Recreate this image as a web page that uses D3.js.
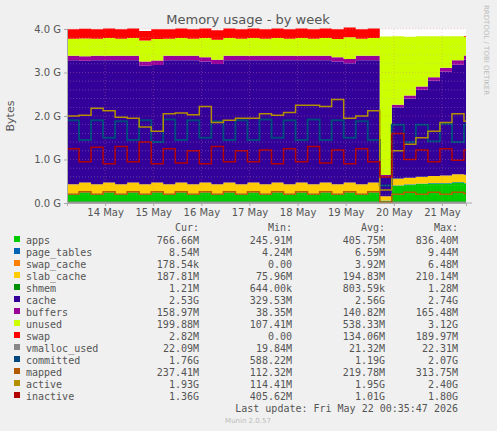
<!DOCTYPE html>
<html>
<head>
<meta charset="UTF-8">
<script src="https://d3js.org/d3.v7.min.js"></script>
<style>
body { margin:0; background:#f0f0f0; }
text { font-family: "DejaVu Sans", sans-serif; fill:#555; }
.mono { font-family: "DejaVu Sans Mono", monospace; font-size:10px; fill:#555; }
</style>
</head>
<body>
<svg id="chart" width="497" height="431"></svg>
<script>
// values in GB, one point every 6 hours from 13 May 05:00
const apps       = [0.20,0.24,0.20,0.24,0.20,0.24,0.20,0.24,0.20,0.24,0.20,0.24,0.20,0.24,0.20,0.24,0.20,0.24,0.20,0.24,0.20,0.24,0.20,0.24,0.20,0.24,0.05,0.40,0.42,0.44,0.45,0.45,0.47,0.45];
const page_tables= [0.01,0.01,0.01,0.01,0.01,0.01,0.01,0.01,0.01,0.01,0.01,0.01,0.01,0.01,0.01,0.01,0.01,0.01,0.01,0.01,0.01,0.01,0.01,0.01,0.01,0.01,0.005,0.01,0.01,0.01,0.01,0.01,0.01,0.01];
const swap_cache = [0.002,0.002,0.002,0.002,0.002,0.002,0.002,0.002,0.002,0.002,0.002,0.002,0.002,0.002,0.002,0.002,0.002,0.002,0.002,0.002,0.002,0.002,0.002,0.002,0.002,0.002,0,0,0,0,0,0,0,0];
const slab_cache = [0.22,0.22,0.22,0.22,0.22,0.22,0.22,0.22,0.22,0.22,0.22,0.22,0.22,0.22,0.22,0.22,0.22,0.22,0.22,0.22,0.22,0.22,0.22,0.22,0.22,0.22,0.10,0.15,0.15,0.15,0.16,0.17,0.18,0.19];
const shmem      = [0.001,0.001,0.001,0.001,0.001,0.001,0.001,0.001,0.001,0.001,0.001,0.001,0.001,0.001,0.001,0.001,0.001,0.001,0.001,0.001,0.001,0.001,0.001,0.001,0.001,0.001,0.001,0.001,0.001,0.001,0.001,0.001,0.001,0.001];
const cache      = [2.85,2.80,2.85,2.81,2.85,2.81,2.72,2.70,2.85,2.81,2.85,2.78,2.76,2.81,2.85,2.81,2.85,2.81,2.85,2.81,2.85,2.81,2.82,2.74,2.85,2.81,0.44,1.64,1.82,2.00,2.19,2.39,2.52,2.64];
const buffers    = [0.10,0.10,0.10,0.10,0.10,0.10,0.10,0.10,0.10,0.10,0.10,0.10,0.10,0.10,0.10,0.10,0.10,0.10,0.10,0.10,0.10,0.10,0.10,0.10,0.10,0.10,0.05,0.06,0.07,0.08,0.08,0.09,0.10,0.10];
const unused     = [0.39,0.41,0.39,0.41,0.39,0.41,0.48,0.50,0.39,0.41,0.39,0.44,0.46,0.41,0.39,0.41,0.39,0.41,0.39,0.41,0.39,0.41,0.42,0.50,0.39,0.41,3.18,1.57,1.35,1.15,0.94,0.72,0.55,0.43];
const swap       = [0.22,0.22,0.22,0.22,0.22,0.22,0.22,0.22,0.22,0.22,0.22,0.22,0.22,0.22,0.22,0.22,0.22,0.22,0.22,0.22,0.22,0.22,0.22,0.22,0.22,0.22,0,0,0,0,0,0,0,0.02];
const vmalloc_used=[0.02,0.02,0.02,0.02,0.02,0.02,0.02,0.02,0.02,0.02,0.02,0.02,0.02,0.02,0.02,0.02,0.02,0.02,0.02,0.02,0.02,0.02,0.02,0.02,0.02,0.02,0.02,0.02,0.02,0.02,0.02,0.02,0.02,0.02];
const committed  = [1.90,1.45,1.90,1.50,1.88,1.45,1.90,1.40,1.92,1.45,1.90,1.50,1.88,1.45,1.90,1.45,1.92,1.50,1.90,1.45,1.92,1.45,1.90,1.50,1.88,1.45,0.40,1.80,1.40,1.80,1.42,1.82,1.40,1.80];
const mapped     = [0.20,0.26,0.20,0.26,0.20,0.26,0.20,0.26,0.20,0.26,0.20,0.26,0.20,0.26,0.20,0.26,0.20,0.26,0.20,0.26,0.20,0.26,0.20,0.26,0.20,0.26,0.02,0.20,0.25,0.20,0.25,0.20,0.25,0.22];
const active     = [2.00,2.02,2.18,2.12,1.97,1.95,1.75,1.65,2.05,2.07,2.03,2.22,1.85,1.90,1.95,1.95,2.05,2.02,2.08,2.25,2.25,2.22,2.38,1.95,2.00,2.12,0.30,1.20,1.35,1.50,1.65,1.85,2.05,1.88];
const inactive   = [1.25,0.95,1.28,0.90,1.30,0.95,1.40,0.90,1.25,0.92,1.20,0.90,1.30,0.95,1.20,0.95,1.22,0.90,1.25,0.95,1.30,0.92,1.22,0.90,1.25,0.95,0.60,1.60,1.00,1.22,0.95,1.25,0.98,1.22];

const names = ["apps","page_tables","swap_cache","slab_cache","shmem","cache","buffers","unused","swap","vmalloc_used","committed","mapped","active","inactive"];
const colors = ["#00cc00","#0066b3","#ff8000","#ffcc00","#008f00","#330099","#990099","#ccff00","#ff0000","#888888","#00487d","#b35a00","#b38f00","#b30000"];
const curVals = ["766.66M","8.54M","178.54k","187.81M","1.21M","2.53G","158.97M","199.88M","2.82M","22.09M","1.76G","237.41M","1.93G","1.36G"];
const minVals = ["245.91M","4.24M","0.00","75.96M","644.00k","329.53M","38.35M","107.41M","0.00","19.84M","588.22M","112.32M","114.41M","405.62M"];
const avgVals = ["405.75M","6.59M","3.92M","194.83M","803.59k","2.56G","140.82M","538.33M","134.06M","21.32M","1.19G","219.78M","1.95G","1.01G"];
const maxVals = ["836.40M","9.44M","6.48M","210.14M","1.28M","2.74G","165.48M","3.12G","189.97M","22.31M","2.07G","313.75M","2.40G","1.80G"];
const yTicks = [0,1,2,3,4];
const dayTicks = [14,15,16,17,18,19,20,21];

const stackSeries = [apps,page_tables,swap_cache,slab_cache,shmem,cache,buffers,unused,swap];
const lineSeries = [vmalloc_used,committed,mapped,active,inactive];

const svg = d3.select("#chart");
const pL = 67, pR = 466, pT = 29, pB = 203;
const t0 = new Date(2026,4,13,5);
const tEnd = new Date(2026,4,21,12);
const n = apps.length;
// sample times plus one closing time so the last step reaches the edge
const tx = d3.range(n + 1).map(i => i < n ? new Date(t0.getTime() + i*6*3600e3) : tEnd);
const x = d3.scaleTime().domain([t0, tEnd]).range([pL, pR]);
const y = d3.scaleLinear().domain([0,4]).range([pB, pT]);

const rows = tx.map((t,i) => {
  const r = {i};
  names.slice(0,9).forEach((nm,k) => r[nm] = stackSeries[k][Math.min(i, n-1)]);
  return r;
});
const stack = d3.stack().keys(names.slice(0,9))(rows);
const area = d3.area().curve(d3.curveStepAfter)
  .x(d => x(tx[d.data.i])).y0(d => y(d[0])).y1(d => y(d[1]));

svg.append("rect").attr("x",pL).attr("y",pT).attr("width",pR-pL).attr("height",pB-pT).attr("fill","#fff");
const plot = svg.append("g");
stack.forEach((s,k) => plot.append("path").datum(s).attr("fill", colors[k]).attr("d", area));

// grid
const days = dayTicks.map(d => new Date(2026,4,d));
svg.append("g").selectAll("line").data(d3.range(0,4.01,0.2)).join("line")
  .attr("x1",pL).attr("x2",pR).attr("y1",d=>y(d)).attr("y2",d=>y(d))
  .attr("stroke",d => Math.abs(d-Math.round(d))<0.01 ? "#e08080" : "#bbbbbb")
  .attr("stroke-dasharray","1,2").attr("stroke-width",0.6).attr("opacity",0.6);
svg.append("g").selectAll("line").data(days).join("line")
  .attr("x1",d=>x(d)).attr("x2",d=>x(d)).attr("y1",pT).attr("y2",pB)
  .attr("stroke","#e08080").attr("stroke-dasharray","1,2").attr("stroke-width",0.6).attr("opacity",0.6);

const line = d3.line().curve(d3.curveStepAfter).x((d,i) => x(tx[i])).y(d => y(d));
lineSeries.forEach((s,k) => {
  plot.append("path").datum(s.concat([s[n-1]]))
    .attr("fill","none").attr("stroke",colors[9+k]).attr("stroke-width", k===1 ? 2 : 1.5)
    .attr("d", line);
});

// axes
const yAxis = svg.append("g").attr("transform",`translate(${pL},0)`)
  .call(d3.axisLeft(y).tickValues(yTicks).tickSize(3).tickFormat(d => d.toFixed(1)+" G"));
const xAxis = svg.append("g").attr("transform",`translate(0,${pB})`)
  .call(d3.axisBottom(x).tickValues(days).tickSize(3).tickFormat(d3.timeFormat("%d May")));
[yAxis,xAxis].forEach(a => {
  a.select(".domain").attr("stroke","#aaa");
  a.selectAll("line").attr("stroke","#aaa");
  a.selectAll("text").attr("fill","#555").style("font-size","10px").style("font-family","DejaVu Sans, sans-serif");
});
svg.append("line").attr("x1",pL).attr("x2",pR+6).attr("y1",pB).attr("y2",pB).attr("stroke","#aaa");
svg.append("text").attr("x",248).attr("y",24).attr("text-anchor","middle").style("font-size","13px").text("Memory usage - by week");
svg.append("text").attr("transform","translate(14,116) rotate(-90)").attr("text-anchor","middle").style("font-size","11px").text("Bytes");
svg.append("text").attr("transform","translate(484,5) rotate(90)").style("font-size","7px").style("fill","#bbb").text("RRDTOOL / TOBI OETIKER");

// legend
const cols = [199,292,385,458];
["Cur:","Min:","Avg:","Max:"].forEach((h,j) => svg.append("text").attr("class","mono").attr("x",cols[j]).attr("y",231).attr("text-anchor","end").text(h));
names.forEach((nm,k) => {
  const yy = 244 + k*12;
  svg.append("rect").attr("x",14).attr("y",yy-8).attr("width",6).attr("height",6).attr("fill",colors[k]);
  svg.append("text").attr("class","mono").attr("x",26).attr("y",yy).text(nm);
  [curVals,minVals,avgVals,maxVals].forEach((arr,j) =>
    svg.append("text").attr("class","mono").attr("x",cols[j]).attr("y",yy).attr("text-anchor","end").text(arr[k]));
});
svg.append("text").attr("class","mono").attr("x",458).attr("y",412).attr("text-anchor","end").text("Last update: Fri May 22 00:35:47 2026");
svg.append("text").attr("x",248).attr("y",423).attr("text-anchor","middle").style("font-size","7px").style("fill","#bbb").text("Munin 2.0.57");
</script>
</body>
</html>
